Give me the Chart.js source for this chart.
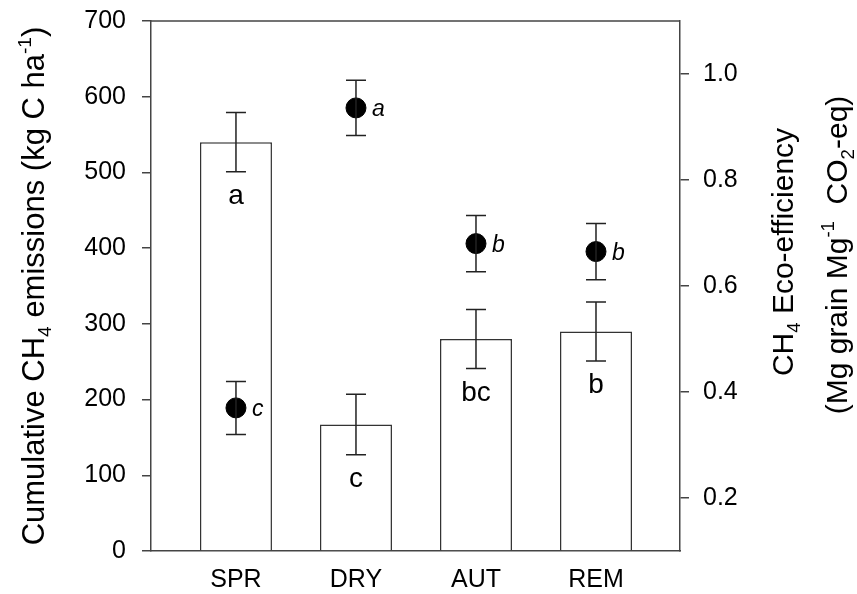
<!DOCTYPE html>
<html>
<head>
<meta charset="utf-8">
<script src="https://cdn.jsdelivr.net/npm/chart.js@4.4.1/dist/chart.umd.min.js"></script>
<style>
html, body { margin: 0; padding: 0; background: #fff; }
</style>
</head>
<body>
<canvas id="myChart" width="857" height="594"></canvas>
<script>
// data
var categories = ["SPR", "DRY", "AUT", "REM"];
var emissions = [540, 167, 280, 290];
var emissionsErr = [39, 40, 39, 39];
var emissionsLetters = ["a", "c", "bc", "b"];
var ecoEff = [0.370, 0.936, 0.680, 0.665];
var ecoEffErr = [0.050, 0.052, 0.053, 0.053];
var ecoLetters = ["c", "a", "b", "b"];
var leftTicks = [0, 100, 200, 300, 400, 500, 600, 700];
var rightTicks = [0.2, 0.4, 0.6, 0.8, 1.0];

var FONT = 'Arial, "Liberation Sans", sans-serif';
var axisColor = "#444";

function setTicks(list) {
    return function (scale) {
        scale.ticks = list.map(function (v) { return { value: v }; });
    };
}

// draws text made of runs (normal / sub / sup) rotated -90deg, centred at cx,cy
function drawRich(ctx, runs, cx, cy, size) {
    ctx.save();
    ctx.translate(cx, cy);
    ctx.rotate(-Math.PI / 2);
    ctx.textBaseline = "alphabetic";
    ctx.textAlign = "left";
    var total = 0;
    runs.forEach(function (r) {
        var s = r.kind ? size * 0.62 : size;
        ctx.font = s + "px " + FONT;
        r.w = ctx.measureText(r.text).width;
        total += r.w;
    });
    var x = -total / 2;
    runs.forEach(function (r) {
        var s = r.kind ? size * 0.62 : size;
        var dy = 0;
        if (r.kind == "sub") dy = size * 0.22;
        if (r.kind == "sup") dy = -size * 0.42;
        ctx.font = s + "px " + FONT;
        ctx.fillStyle = "#000";
        ctx.fillText(r.text, x, dy);
        x += r.w;
    });
    ctx.restore();
}

var extras = {
    id: "extras",
    afterDatasetsDraw: function (chart) {
        var ctx = chart.ctx;
        var x = chart.scales.x, y = chart.scales.y, y1 = chart.scales.y1;
        ctx.save();
        ctx.strokeStyle = "#222";
        ctx.lineWidth = 1.5;
        function errBar(i, val, err, scale) {
            var px = x.getPixelForValue(i);
            var top = scale.getPixelForValue(val + err);
            var bot = scale.getPixelForValue(val - err);
            ctx.beginPath();
            ctx.moveTo(px, top); ctx.lineTo(px, bot);
            ctx.moveTo(px - 10, top); ctx.lineTo(px + 10, top);
            ctx.moveTo(px - 10, bot); ctx.lineTo(px + 10, bot);
            ctx.stroke();
        }
        categories.forEach(function (c, i) {
            errBar(i, emissions[i], emissionsErr[i], y);
            errBar(i, ecoEff[i], ecoEffErr[i], y1);
        });
        // letters
        ctx.fillStyle = "#000";
        ctx.textBaseline = "alphabetic";
        categories.forEach(function (c, i) {
            var px = x.getPixelForValue(i);
            ctx.textAlign = "center";
            ctx.font = "28px " + FONT;
            ctx.fillText(emissionsLetters[i], px, y.getPixelForValue(emissions[i]) + 62);
            ctx.textAlign = "left";
            ctx.font = "italic 23px " + FONT;
            ctx.fillText(ecoLetters[i], px + 16, y1.getPixelForValue(ecoEff[i]) + 8);
        });
        ctx.restore();
    },
    afterDraw: function (chart) {
        var ctx = chart.ctx, a = chart.chartArea;
        ctx.save();
        ctx.strokeStyle = axisColor;
        ctx.lineWidth = 1.5;
        ctx.beginPath();
        ctx.moveTo(a.left, a.top);
        ctx.lineTo(a.right, a.top);
        ctx.stroke();
        ctx.restore();
        var mid = (a.top + a.bottom) / 2;
        drawRich(ctx, [
            { text: "Cumulative CH" }, { text: "4", kind: "sub" },
            { text: " emissions (kg C ha" }, { text: "-1", kind: "sup" }, { text: ")" }
        ], 44, mid, 31);
        drawRich(ctx, [
            { text: "CH" }, { text: "4", kind: "sub" }, { text: " Eco-efficiency" }
        ], 793, 252, 30);
        drawRich(ctx, [
            { text: "(Mg grain Mg" }, { text: "-1", kind: "sup" },
            { text: "  CO" }, { text: "2", kind: "sub" }, { text: "-eq)" }
        ], 847, 255, 30);
    }
};

var tickFont = { family: FONT, size: 25 };

function fitY(w) {
    return function (s) {
        s.width = w;
        s.paddingTop = 0;
        s.paddingBottom = 0;
    };
}

var ctx = document.getElementById("myChart").getContext("2d");
var config = {
    type: "bar",
    data: {
        datasets: [{
            type: "bar",
            order: 2,
            data: categories.map(function (c, i) { return { x: i, y: emissions[i] }; }),
            backgroundColor: "#fff",
            borderColor: "#333",
            borderWidth: 1.5,
            barPercentage: 0.6,
            categoryPercentage: 1,
            xAxisID: "x",
            yAxisID: "y"
        }, {
            type: "scatter",
            order: 1,
            data: categories.map(function (c, i) { return { x: i, y: ecoEff[i] }; }),
            backgroundColor: "#000",
            borderColor: "#000",
            pointRadius: 10,
            pointHoverRadius: 10,
            xAxisID: "x",
            yAxisID: "y1"
        }]
    },
    options: {
        responsive: false,
        animation: false,
        events: [],
        layout: { padding: { top: 21, left: 0, right: 0, bottom: 0 } },
        plugins: { legend: { display: false }, tooltip: { enabled: false } },
        scales: {
            x: {
                type: "linear",
                offset: false,
                min: -0.708,
                max: 3.7,
                afterBuildTicks: setTicks(categories.map(function (c, i) { return i; })),
                afterFit: function (s) { s.height = 43; s.paddingLeft = 0; s.paddingRight = 0; },
                ticks: {
                    callback: function (v) { return categories[v]; },
                    font: tickFont, color: "#000", padding: 6,
                    autoSkip: false, maxRotation: 0
                },
                grid: { display: false },
                border: { color: axisColor, width: 1.5 }
            },
            y: {
                position: "left",
                min: 0,
                max: 700,
                afterBuildTicks: setTicks(leftTicks),
                afterFit: fitY(151),
                ticks: { font: tickFont, color: "#000", padding: 16 },
                grid: { drawOnChartArea: false, tickLength: 9, color: axisColor, lineWidth: 1.5 },
                border: { color: axisColor, width: 1.5 }
            },
            y1: {
                position: "right",
                min: 0.1,
                max: 1.1,
                afterBuildTicks: setTicks(rightTicks),
                afterFit: fitY(177),
                ticks: {
                    font: tickFont, color: "#000", padding: 14,
                    callback: function (v) { return v.toFixed(1); }
                },
                grid: { drawOnChartArea: false, tickLength: 9, color: axisColor, lineWidth: 1.5 },
                border: { color: axisColor, width: 1.5 }
            }
        }
    },
    plugins: [extras]
};

var myChart = new Chart(ctx, config);
</script>
</body>
</html>
